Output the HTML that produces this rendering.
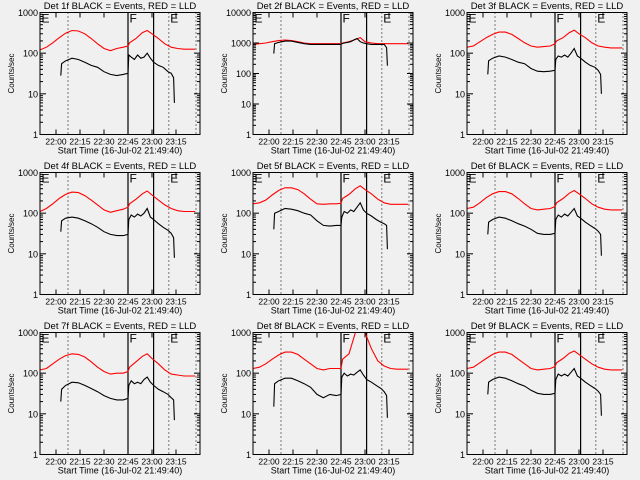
<!DOCTYPE html>
<html><head><meta charset="utf-8"><style>
html,body{margin:0;padding:0;background:#f0f0f0;}
svg{display:block;font-family:"Liberation Sans",sans-serif;}
</style></head><body>
<svg id="chart" width="640" height="480" viewBox="0 0 640 480" xmlns="http://www.w3.org/2000/svg">
<rect x="0" y="0" width="640" height="480" fill="#f0f0f0"/>
</svg>
<script>
// minutes since 21:50
const redTimes=[0,4,8,12,16,20,24,28,32,36,40,44,48,52,55,56,60,64,67,70,74,78,82,86,90,94,97];
const blackTimes=[13,13.5,16,20,24,28,32,36,40,44,48,52,55,55.5,57,59,61,63,65,67,69,71,74,77,80,82,83.5,84];
const panelTitles=["Det 1f","Det 2f","Det 3f","Det 4f","Det 5f","Det 6f","Det 7f","Det 8f","Det 9f"];
const panelDecades=[3,4,3,3,3,3,3,3,3];
const red1=[120,140,180,240,310,360,350,300,230,170,130,115,130,140,150,180,230,320,360,300,230,170,140,130,125,125,125];
const red2=[900,950,1000,1100,1200,1250,1200,1100,1000,950,950,950,950,950,950,1000,1100,1300,1500,1100,1000,950,950,950,950,950,950];
const red3=[140,150,190,240,290,330,330,290,230,180,150,140,145,150,170,200,240,320,370,300,240,180,150,140,135,135,135];
const red4=[110,130,170,230,290,330,320,270,210,160,120,105,115,125,140,170,220,300,350,280,210,160,130,115,110,110,110];
const red5=[170,180,210,280,360,420,420,380,300,220,170,165,170,170,175,230,290,400,470,380,300,220,180,165,165,165,165];
const red6=[130,140,180,240,300,340,340,300,230,170,130,120,125,130,145,180,230,310,360,300,230,170,140,125,120,120,120];
const red7=[120,130,170,220,270,300,290,250,190,140,110,95,100,100,110,140,190,260,300,230,170,120,95,90,85,85,85];
const red8=[130,140,170,220,280,330,330,290,220,170,130,120,130,130,130,220,300,1000,1000,1000,400,200,150,130,125,125,125];
const red9=[130,140,180,230,290,330,330,290,220,170,130,120,125,130,145,180,230,310,350,290,220,170,140,125,120,120,120];
const redSeries=[red1,red2,red3,red4,red5,red6,red7,red8,red9];
const black1=[28,55,65,75,70,60,50,45,35,30,28,30,32,90,80,70,90,75,80,100,75,60,50,45,35,32,25,6];
const black2=[450,950,1050,1150,1150,1050,950,900,900,900,900,900,900,950,1000,1050,1100,1250,1400,1100,1000,950,900,900,900,900,700,180];
const black3=[30,65,75,85,80,70,60,55,42,36,35,36,38,70,85,80,90,80,100,130,85,75,60,50,45,38,30,10];
const black4=[35,65,75,80,75,65,55,45,35,30,28,28,30,70,90,80,95,85,100,130,80,70,55,45,38,32,25,8];
const black5=[40,100,110,130,125,115,100,90,65,50,48,50,50,80,110,100,120,110,140,180,120,100,85,70,60,55,50,13];
const black6=[30,60,70,80,75,65,55,48,40,32,30,30,32,70,90,80,95,85,105,130,85,75,60,50,42,36,30,9];
const black7=[20,40,50,60,58,50,42,35,28,24,22,22,24,50,65,55,60,55,70,80,60,50,40,35,30,25,22,7];
const black8=[15,55,65,75,75,65,55,45,30,25,30,28,30,80,100,85,95,90,105,120,90,70,60,50,42,35,28,8];
const black9=[30,60,70,80,75,65,55,48,38,32,30,30,32,70,95,85,95,85,105,130,85,75,60,50,42,36,30,9];
const blackSeries=[black1,black2,black3,black4,black5,black6,black7,black8,black9];
const xTickMinutes=[10,25,40,55,70,85];
const xTickLabels=["22:00","22:15","22:30","22:45","23:00","23:15"];
const markerTimes=[17.5,55,71,80.5,97.5];
const markerStyles=["dot","solid","solid","dot","dot"];
const markerLetters=[["E",0],["F",55],["E",80.5]];

const NS="http://www.w3.org/2000/svg";
const svg=document.getElementById('chart');
function mk(tag,attrs,parent){const e=document.createElementNS(NS,tag);for(const k in attrs)e.setAttribute(k,attrs[k]);parent.appendChild(e);return e;}
const L=40,R=200,T=12.5,B=134.5;
function xs(t){return L+1.6*t;}
for(let p=0;p<9;p++){
  const ox=[0,213,427][p%3], oy=[0,160,320][Math.floor(p/3)];
  const nd=panelDecades[p];
  const ys=v=>{const c=Math.min(Math.max(v,1),Math.pow(10,nd));return B-(B-T)*Math.log10(c)/nd;};
  const g=mk('g',{transform:`translate(${ox},${oy})`},svg);
  
  
  const title=mk('text',{x:120,y:9,'text-anchor':'middle','font-size':9.5,fill:'#000'},g);
  title.textContent=panelTitles[p]+" BLACK = Events, RED = LLD";
  
  
  markerTimes.forEach((t,i)=>{
    const ln=mk('line',{x1:xs(t),x2:xs(t),y1:T,y2:B,stroke:'#000','stroke-width':markerStyles[i]=='solid'?1.2:1,'stroke-dasharray':markerStyles[i]=='dot'?'1,3':'none'},g);
    
    
  });
  markerLetters.forEach(m=>{
    const tx=mk('text',{x:xs(m[1])+1.5,y:T+10,'font-size':12,fill:'#000'},g);
    tx.textContent=m[0];
    
    
  });
  const rp=redTimes.map((t,i)=>xs(t).toFixed(1)+','+ys(redSeries[p][i]).toFixed(1)).join(' ');
  const rl=mk('polyline',{points:rp,fill:'none',stroke:'#ff0000','stroke-width':1.1},g);
  
  
  const bp=blackTimes.map((t,i)=>xs(t).toFixed(1)+','+ys(blackSeries[p][i]).toFixed(1)).join(' ');
  const bl=mk('polyline',{points:bp,fill:'none',stroke:'#000','stroke-width':1.1},g);
  
  
  const box=mk('rect',{x:L,y:T,width:R-L,height:B-T,fill:'none',stroke:'#000','stroke-width':1},g);
  
  
  for(let d=0;d<=nd;d++){
    const y=ys(Math.pow(10,d));
    mk('line',{x1:L,x2:L+6,y1:y,y2:y,stroke:'#000'},g);
    mk('line',{x1:R-6,x2:R,y1:y,y2:y,stroke:'#000'},g);
    const lb=mk('text',{x:L-2,y:y+3.5,'text-anchor':'end','font-size':9,fill:'#000'},g);
    lb.textContent=String(Math.pow(10,d));
    
    
    if(d<nd)for(let k=2;k<10;k++){const yy=ys(k*Math.pow(10,d));
      mk('line',{x1:L,x2:L+3,y1:yy,y2:yy,stroke:'#000'},g);
      mk('line',{x1:R-3,x2:R,y1:yy,y2:yy,stroke:'#000'},g);}
  }
  xTickMinutes.forEach((t,i)=>{
    const x=xs(t);
    mk('line',{x1:x,x2:x,y1:B,y2:B-5,stroke:'#000'},g);
    mk('line',{x1:x,x2:x,y1:T,y2:T+5,stroke:'#000'},g);
    const lb=mk('text',{x:x,y:B+10,'text-anchor':'middle','font-size':8.5,fill:'#000'},g);
    lb.textContent=xTickLabels[i];
    
    
  });
  const xt=mk('text',{x:120,y:B+19,'text-anchor':'middle','font-size':9,fill:'#000'},g);
  xt.textContent="Start Time (16-Jul-02 21:49:40)";
  
  
  const yt=mk('text',{x:0,y:0,'text-anchor':'middle','font-size':8,fill:'#000',transform:`translate(14,${(T+B)/2}) rotate(-90)`},g);
  yt.textContent="Counts/sec";
  
  
}
</script>
</body></html>
